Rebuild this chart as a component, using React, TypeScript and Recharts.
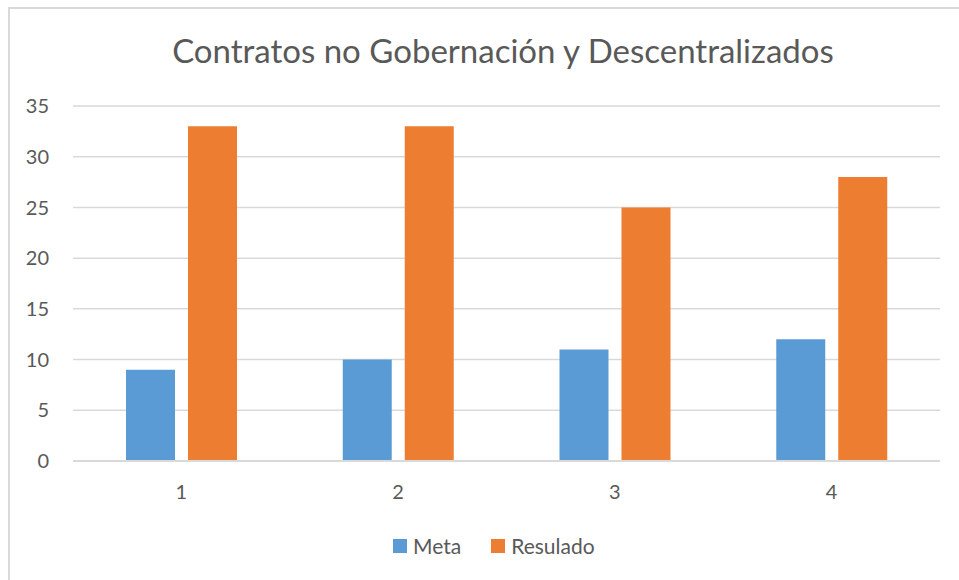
import { BarChart, Bar, XAxis, YAxis, CartesianGrid } from 'recharts';

const categories = ['1', '2', '3', '4'];
const metaValues = [9, 10, 11, 12];
const resultadoValues = [33, 33, 25, 28];
const yTicks = [0, 5, 10, 15, 20, 25, 30, 35];

const chartData = categories.map((name, i) => ({
    name,
    meta: metaValues[i],
    resulado: resultadoValues[i],
}));

const FONT = 'Lato, "Open Sans", sans-serif';
const TEXT = '#595959';
const GRID = '#d9d9d9';

const legendItems = [
    { label: 'Meta', color: '#5b9bd5' },
    { label: 'Resulado', color: '#ed7d31' },
];

export default function App() {
    return (
        <div style={{ position: 'fixed', left: 0, top: 0, width: 959, height: 580, background: '#fff', overflow: 'hidden' }}>
            {/* chart frame, runs past the window on the right and bottom */}
            <div
                style={{
                    position: 'absolute',
                    left: 8,
                    top: 7,
                    width: 980,
                    height: 600,
                    borderLeft: `2px solid ${GRID}`,
                    borderTop: `2px solid ${GRID}`,
                }}
            />
            <div
                style={{
                    position: 'absolute',
                    left: 0,
                    width: 1006,
                    top: 28,
                    textAlign: 'center',
                    fontFamily: FONT,
                    fontSize: 33,
                    color: TEXT,
                    lineHeight: '44px',
                }}
            >
                Contratos no Gobernación y Descentralizados
            </div>
            <div style={{ position: 'absolute', left: 0, top: 0 }}>
                <BarChart
                    width={959}
                    height={580}
                    data={chartData}
                    margin={{ top: 106, right: 19, bottom: 89, left: 0 }}
                    barGap={13}
                >
                    <CartesianGrid vertical={false} stroke={GRID} strokeWidth={1.5} />
                    <XAxis
                        dataKey="name"
                        height={30}
                        stroke={GRID}
                        strokeWidth={2}
                        tickLine={false}
                        tickSize={0}
                        tickMargin={24}
                        tick={{ fill: TEXT, fontSize: 20, fontFamily: FONT }}
                    />
                    <YAxis
                        width={73}
                        domain={[0, 35]}
                        ticks={yTicks}
                        axisLine={false}
                        tickLine={false}
                        tickSize={0}
                        tickMargin={24}
                        tick={{ fill: TEXT, fontSize: 20, fontFamily: FONT }}
                    />
                    <Bar dataKey="meta" name="Meta" fill="#5b9bd5" barSize={49} isAnimationActive={false} />
                    <Bar dataKey="resulado" name="Resulado" fill="#ed7d31" barSize={49} isAnimationActive={false} />
                </BarChart>
            </div>
            <div
                style={{
                    position: 'absolute',
                    left: 393,
                    top: 533,
                    display: 'flex',
                    alignItems: 'center',
                    fontFamily: FONT,
                    fontSize: 21,
                    color: TEXT,
                    lineHeight: '26px',
                }}
            >
                {legendItems.map((item, i) => (
                    <div key={item.label} style={{ display: 'flex', alignItems: 'center', marginRight: i === 0 ? 30 : 0 }}>
                        <span style={{ display: 'inline-block', width: 14, height: 14, background: item.color, marginRight: 6 }} />
                        <span>{item.label}</span>
                    </div>
                ))}
            </div>
        </div>
    );
}
